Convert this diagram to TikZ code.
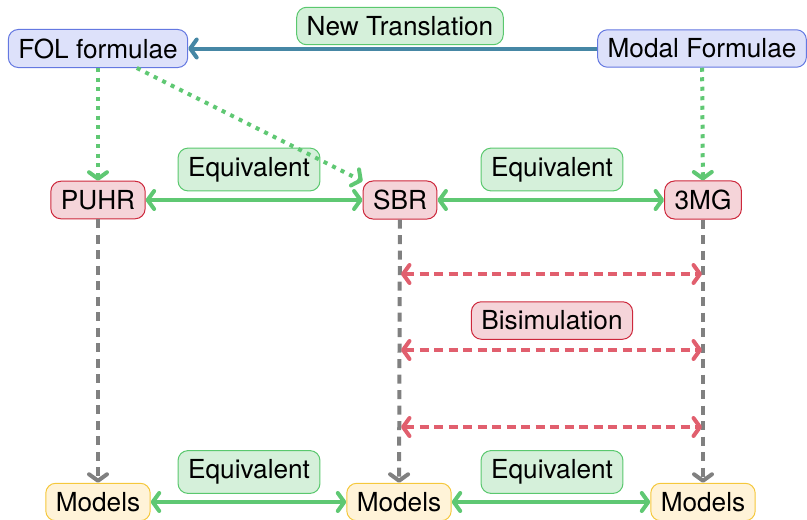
\documentclass[tikz,border=0pt]{standalone}
\usepackage{fontspec}
\setmainfont{TeX Gyre Heros}
\usetikzlibrary{arrows.meta}
\definecolor{bfill}{RGB}{221,225,250}
\definecolor{bdraw}{RGB}{100,120,225}
\definecolor{gfill}{RGB}{213,240,218}
\definecolor{gdraw}{RGB}{90,200,110}
\definecolor{rfill}{RGB}{245,212,217}
\definecolor{rdraw}{RGB}{205,40,60}
\definecolor{yfill}{RGB}{255,243,216}
\definecolor{ydraw}{RGB}{245,200,60}
\definecolor{blueline}{RGB}{70,135,165}
\definecolor{greenline}{RGB}{95,200,115}
\definecolor{redline}{RGB}{225,95,110}
\definecolor{grayline}{RGB}{128,128,128}
\tikzset{
  box/.style={rounded corners=10pt, inner xsep=10pt, inner ysep=9pt, line width=1pt, font=\fontsize{26.2}{30}\selectfont},
  bluebox/.style={box, fill=bfill, draw=bdraw},
  greenbox/.style={box, fill=gfill, draw=gdraw},
  redbox/.style={box, fill=rfill, draw=rdraw},
  yellowbox/.style={box, fill=yfill, draw=ydraw},
  conn/.style={line width=4pt},
  dotconn/.style={conn, greenline, dash pattern=on 4pt off 5.5pt, -{Straight Barb[length=6.5pt,width=18pt,round]}},
  grayconn/.style={conn, grayline, dash pattern=on 9pt off 6.5pt, -{Straight Barb[length=6.5pt,width=18pt,round]}},
  redconn/.style={conn, redline, dash pattern=on 9pt off 5.5pt, {Straight Barb[length=6.5pt,width=18pt,round]}-{Straight Barb[length=6.5pt,width=18pt,round]}},
  greenconn/.style={conn, greenline, {Straight Barb[length=6.5pt,width=18pt,round]}-{Straight Barb[length=6.5pt,width=18pt,round]}},
}
\begin{document}
\begin{tikzpicture}[x=1pt,y=-1pt]
\useasboundingbox (0,0) rectangle (807,520);
\node[bluebox] (fol) at (98,48.5) {FOL formulae};
\node[bluebox] (modal) at (702,48.5) {Modal Formulae};
\node[greenbox] (nt) at (400,26) {New Translation};
\node[redbox] (puhr) at (98,200) {PUHR};
\node[redbox] (sbr) at (400,200) {SBR};
\node[redbox] (mg) at (703,200) {3MG};
\node[yellowbox] (m1) at (98,502) {Models};
\node[yellowbox] (m2) at (399,502) {Models};
\node[yellowbox] (m3) at (703,502) {Models};
\node[greenbox] (e1) at (249,169.5) {Equivalent};
\node[greenbox] (e2) at (552,169.5) {Equivalent};
\node[greenbox] (e3) at (249,472) {Equivalent};
\node[greenbox] (e4) at (552,472) {Equivalent};
\node[redbox] (bis) at (552,320.5) {Bisimulation};

\draw[conn, blueline, -{Straight Barb[length=6.5pt,width=18pt,round]}] (modal) -- (fol);
\draw[dotconn] (fol) -- (puhr);
\draw[dotconn] (fol) -- (sbr);
\draw[dotconn] (modal) -- (mg);
\draw[greenconn] (puhr) -- (sbr);
\draw[greenconn] (sbr) -- (mg);
\draw[grayconn] (puhr) -- (m1);
\draw[grayconn] (sbr) -- (m2);
\draw[grayconn] (mg) -- (m3);
\draw[greenconn] (m1) -- (m2);
\draw[greenconn] (m2) -- (m3);
\coordinate (l1) at (401,274);
\coordinate (r1) at (702,274);
\coordinate (l2) at (401,350);
\coordinate (r2) at (702,350);
\coordinate (l3) at (401,427);
\coordinate (r3) at (702,427);
\draw[redconn] (l1) -- (r1);
\draw[redconn] (l2) -- (r2);
\draw[redconn] (l3) -- (r3);
\end{tikzpicture}
\end{document}
